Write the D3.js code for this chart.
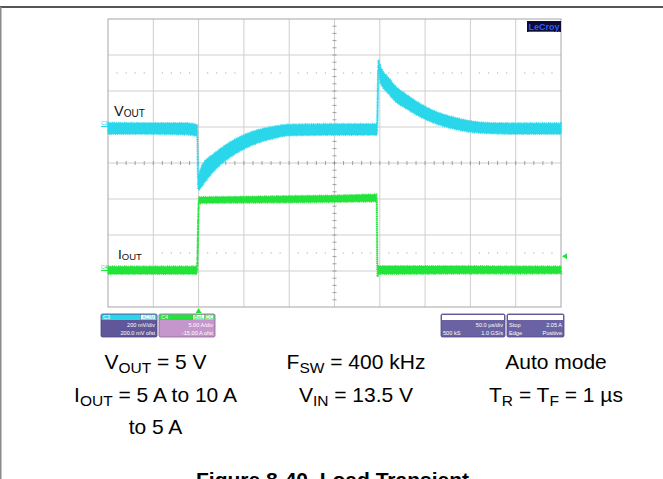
<!DOCTYPE html>
<html><head><meta charset="utf-8">
<script src="https://cdn.jsdelivr.net/npm/d3@7"></script>
<style>html,body{margin:0;padding:0;background:#fff;}svg{display:block;}</style>
</head><body>
<svg id="c" width="663" height="479"></svg>
<script>
// ---------- DATA ----------
// VOUT (C3) AC deviation in mV: envelope of the noisy trace
const vTime = [-250,-200,-165,-155,-151.5,-150.5,-149,-147,-143,-135,-125,-115,-100,-85,-70,-50,0,47,48.5,50.5,54,60,65,80,95,110,130,150,175,200,250];
const vHigh = [24,22,22,17,11,-272,-250,-222,-189,-156,-117,-83,-44,-17,0,14,17,17,372,339,306,272,239,178,128,89,56,33,22,21,21];
const vLow  = [-39,-39,-42,-47,-50,-344,-347,-333,-306,-256,-206,-167,-122,-89,-67,-47,-44,-44,317,250,217,183,153,100,56,22,-8,-28,-36,-39,-39];
// IOUT (C4) in A (scope reading): envelope
const iTime = [-250,-151.8,-149.6,-140,-50,0,46.6,47.4,49,250];
const iHigh = [0.63,0.63,10.28,10.28,10.42,10.49,10.63,0.69,0.69,0.63];
const iLow  = [-0.42,-0.42,9.38,9.44,9.51,9.58,9.65,-0.83,-0.42,-0.35];
// scope settings
const timeDomain = [-250, 250];            // µs, 50 µs/div
const c3VoltsPerDiv = 200, c3Offset = 200; // mV
const c4AmpsPerDiv = 5, c4Offset = -15;    // A
const triggerLevel = 2.05, triggerTime = -150;
const c3Box = ["200 mV/div", "200.0 mV ofst"];
const c4Box = ["5.00 A/div", "-15.00 A ofst"];
const tbBox = ["50.0 µs/div", "500 kS", "1.0 GS/s"];
const trBox = ["Stop", "2.05 A", "Edge", "Positive"];
const conditions = [
  [[["V"],["OUT",1],[" = 5 V"]], [["I"],["OUT",1],[" = 5 A to 10 A"]], [["to 5 A"]]],
  [[["F"],["SW",1],[" = 400 kHz"]], [["V"],["IN",1],[" = 13.5 V"]]],
  [[["Auto mode"]], [["T"],["R",1],[" = T"],["F",1],[" = 1 µs"]]]
];
const caption = "Figure 8-40. Load Transient";

// ---------- LAYOUT ----------
const svg = d3.select("#c");
const L = 108, R = 561, T = 19, B = 307, CY = (T + B) / 2;
const DIVX = 10, DIVY = 8;
const dx = (R - L) / DIVX, dy = (B - T) / DIVY;
const x = d3.scaleLinear().domain(timeDomain).range([L, R]);
const yScreenDiv = d3.scaleLinear().domain([-4, 4]).range([B, T]);
const yV = v => yScreenDiv((v + c3Offset) / c3VoltsPerDiv);
const yI = a => yScreenDiv((a + c4Offset) / c4AmpsPerDiv);
const FONT = "'Liberation Sans', Arial, Helvetica, sans-serif";
const CYAN = "#2ad6ea", GREEN = "#22e33a";

// outer borders
svg.append("line").attr("x1",0).attr("x2",663).attr("y1",7).attr("y2",7).attr("stroke","#1e1e1e").attr("stroke-width",1.5);
svg.append("line").attr("x1",0.75).attr("x2",0.75).attr("y1",7).attr("y2",479).attr("stroke","#8a8a8a").attr("stroke-width",1.5);

// grid
const g = svg.append("g");
d3.range(1, DIVX).forEach(i => g.append("line").attr("x1",L+i*dx).attr("x2",L+i*dx).attr("y1",T).attr("y2",B).attr("stroke","#cfcfcf").attr("stroke-width",1));
d3.range(1, DIVY).forEach(i => g.append("line").attr("y1",T+i*dy).attr("y2",T+i*dy).attr("x1",L).attr("x2",R).attr("stroke","#cfcfcf").attr("stroke-width",1));
// dotted levels
[2.5, -2.5].forEach(lv => {
  const yy = yScreenDiv(lv);
  d3.range(0, DIVX*5).filter(k => k % 5 !== 0).forEach(k => {
    g.append("rect").attr("x", L + k*dx/5 - 0.6).attr("y", yy - 0.6).attr("width",1.2).attr("height",1.2).attr("fill","#b8b8b8");
  });
});
// centre minor ticks
const CX = x(0);
d3.range(1, DIVX*5).forEach(k => {
  const xx = L + k*dx/5;
  g.append("line").attr("x1",xx).attr("x2",xx).attr("y1",CY-2).attr("y2",CY+2).attr("stroke","#8c8c8c").attr("stroke-width",0.8);
});
d3.range(1, DIVY*5).forEach(k => {
  const yy = T + k*dy/5;
  g.append("line").attr("y1",yy).attr("y2",yy).attr("x1",CX-2).attr("x2",CX+2).attr("stroke","#8c8c8c").attr("stroke-width",0.8);
});
// frame
g.append("rect").attr("x",L).attr("y",T).attr("width",R-L).attr("height",B-T).attr("fill","none").attr("stroke","#a6a6a6").attr("stroke-width",1);

// LeCroy badge
svg.append("rect").attr("x",527).attr("y",21).attr("width",34).attr("height",11).attr("fill","#0b0b36");
svg.append("text").attr("x",544).attr("y",30).attr("text-anchor","middle").attr("font-family",FONT).attr("font-size",9).attr("font-weight","bold").attr("fill","#2f5cff").attr("text-decoration","underline").text("LeCroy");

// labels inside
svg.append("rect").attr("x",109).attr("y",245).attr("width",43).attr("height",17).attr("fill","#fff");
const lab = (xx, yy, main, sub, fs, fss) => {
  const t = svg.append("text").attr("x",xx).attr("y",yy).attr("font-family",FONT).attr("font-size",fs).attr("fill","#111");
  t.append("tspan").text(main);
  t.append("tspan").attr("font-size",fss).attr("dy",1).text(sub);
};
lab(114, 116, "V", "OUT", 14.5, 10);
lab(118, 259, "I", "OUT", 13.5, 9.5);

// traces (envelope band + ragged edge stroke to mimic noise)
const mk = (tArr, hi, lo) => tArr.map((t, i) => ({t, hi: hi[i], lo: lo[i]}));
const area = yf => d3.area().x(d => x(d.t)).y0(d => yf(d.lo)).y1(d => yf(d.hi)).curve(d3.curveMonotoneX);
const vData = mk(vTime, vHigh, vLow), iData = mk(iTime, iHigh, iLow);
[[vData, yV, CYAN], [iData, yI, GREEN]].forEach(([data, yf, col]) => {
  svg.append("path").datum(data).attr("d", area(yf)).attr("fill",col).attr("stroke",col).attr("stroke-width",0.5);
  svg.append("path").datum(data).attr("d", area(yf)).attr("fill","none").attr("stroke",col)
     .attr("stroke-width",2.2).attr("stroke-dasharray","0.8 1.1 0.5 1.6 1.2 0.9").attr("opacity",0.85);
});

// channel markers
const chMark = (name, yy, col) => {
  svg.append("text").attr("x",101).attr("y",yy-1.5).attr("font-family",FONT).attr("font-size",5).attr("fill",col).text(name);
  svg.append("line").attr("x1",101).attr("x2",108).attr("y1",yy).attr("y2",yy).attr("stroke",col).attr("stroke-width",1);
};
chMark("C3", yV(0) - 0.5, CYAN);
chMark("C4", yI(0) - 0.5, GREEN);
// trigger level marker (right) and trigger position (bottom)
const ty = yI(triggerLevel);
svg.append("path").attr("d",`M${R+1},${ty} L${R+6},${ty-3} L${R+6},${ty+3} Z`).attr("fill",GREEN);
const tx = x(triggerTime);
svg.append("path").attr("d",`M${tx},${B+1} L${tx-3},${B+6} L${tx+3},${B+6} Z`).attr("fill",GREEN);

// info boxes
const boxFont = {"font-family":FONT,"font-size":5.6,"fill":"#fff"};
const txt = (sel, xx, yy, s, anchor) => { const t = sel.append("text").attr("x",xx).attr("y",yy).attr("text-anchor",anchor||"start").text(s); Object.entries(boxFont).forEach(([k,v])=>t.attr(k,v)); return t; };
function chBox(x0, w, headCol, bodyCol, border, name, tags, lines) {
  const b = svg.append("g");
  b.append("rect").attr("x",x0).attr("y",314).attr("width",w).attr("height",23).attr("rx",1.5).attr("fill",bodyCol).attr("stroke",border).attr("stroke-width",0.8);
  b.append("rect").attr("x",x0+0.5).attr("y",314.5).attr("width",w-1).attr("height",5.5).attr("fill",headCol);
  txt(b, x0+2, 319.3, name);
  let xr = x0 + w - 1.5;
  tags.slice().reverse().forEach(tg => {
    const tw = tg.length * 3.3 + 1.5;
    b.append("rect").attr("x",xr-tw).attr("y",314.8).attr("width",tw).attr("height",4.9).attr("fill","#fff").attr("stroke",border).attr("stroke-width",0.3);
    b.append("text").attr("x",xr-tw/2).attr("y",319).attr("text-anchor","middle").attr("font-family",FONT).attr("font-size",4.8).attr("fill",headCol).text(tg);
    xr -= tw + 1;
  });
  txt(b, x0+w-2, 327, lines[0], "end");
  txt(b, x0+w-2, 335, lines[1], "end");
}
chBox(101, 56, CYAN, "#5f5799", "#4a4282", "C3", ["ACIM"], c3Box);
chBox(159, 56, GREEN, "#c596cb", "#8e5f98", "C4", ["BwL","DC"], c4Box);
function infoBox(x0, w, rows) {
  const b = svg.append("g");
  b.append("rect").attr("x",x0).attr("y",314).attr("width",w).attr("height",23).attr("rx",1.5).attr("fill","#6a62a2").attr("stroke","#514a8a").attr("stroke-width",0.8);
  b.append("rect").attr("x",x0+1).attr("y",315).attr("width",w-2).attr("height",5).attr("fill","#fff");
  rows.forEach(r => txt(b, r[0] === "s" ? x0+2 : x0+w-2, r[2], r[1], r[0] === "s" ? "start" : "end"));
}
infoBox(441, 64, [["e", tbBox[0], 327], ["s", tbBox[1], 335], ["e", tbBox[2], 335]]);
infoBox(507, 57, [["s", trBox[0], 327], ["e", trBox[1], 327], ["s", trBox[2], 335], ["e", trBox[3], 335]]);

// conditions text
const colX = [155.5, 356, 556], rowY = [369, 402, 434];
conditions.forEach((col, ci) => col.forEach((parts, ri) => {
  const t = svg.append("text").attr("x",colX[ci]).attr("y",rowY[ri]).attr("text-anchor","middle").attr("font-family",FONT).attr("font-size",21).attr("fill","#000");
  let down = false;
  parts.forEach(p => {
    const sp = t.append("tspan").text(p[0]);
    if (p[1]) { sp.attr("font-size",15.5).attr("dy", down ? 0 : 4); down = true; }
    else if (down) { sp.attr("dy",-4); down = false; }
  });
}));
// caption: the reference page is cropped through this line, so it is cut at the bottom edge as there
svg.append("text").attr("x",332.5).attr("y",487).attr("text-anchor","middle").attr("font-family",FONT).attr("font-size",21).attr("font-weight","bold").attr("fill","#000").text(caption);
</script>
</body></html>
